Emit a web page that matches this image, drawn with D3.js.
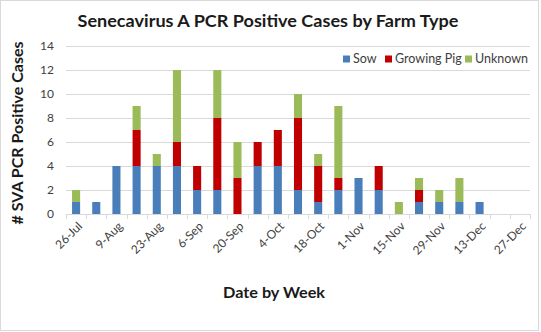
<!DOCTYPE html>
<html>
<head>
<meta charset="utf-8">
<script src="https://cdn.jsdelivr.net/npm/d3@7"></script>
<style>
  html, body { margin: 0; padding: 0; background: #fff; }
  svg { display: block; font-family: Lato, "Open Sans", sans-serif; }
</style>
</head>
<body>
<svg id="chart" width="541" height="332"></svg>
<script>
// weekly SVA PCR positive counts, split by farm type
const weeks = ['26-Jul', '2-Aug', '9-Aug', '16-Aug', '23-Aug', '30-Aug', '6-Sep', '13-Sep',
  '20-Sep', '27-Sep', '4-Oct', '11-Oct', '18-Oct', '25-Oct', '1-Nov', '8-Nov', '15-Nov',
  '22-Nov', '29-Nov', '6-Dec', '13-Dec', '20-Dec', '27-Dec'];
const sow =        [1, 1, 4, 4, 4, 4, 2, 2, 0, 4, 4, 2, 1, 2, 3, 2, 0, 1, 1, 1, 1, 0, 0];
const growingPig = [0, 0, 0, 3, 0, 2, 2, 6, 3, 2, 3, 6, 3, 1, 0, 2, 0, 1, 0, 0, 0, 0, 0];
const unknown =    [1, 0, 0, 2, 1, 6, 0, 4, 3, 0, 0, 2, 1, 6, 0, 0, 1, 1, 1, 2, 0, 0, 0];
const yTicks = [0, 2, 4, 6, 8, 10, 12, 14];

const seriesKeys = ['Sow', 'Growing Pig', 'Unknown'];
const colors = { 'Sow': '#4a7ebb', 'Growing Pig': '#c00000', 'Unknown': '#9bbb59' };

const rows = weeks.map((w, i) => ({
  week: w, 'Sow': sow[i], 'Growing Pig': growingPig[i], 'Unknown': unknown[i]
}));

const svg = d3.select('#chart');
const W = 541, H = 332;
const m = { left: 66, right: 11, top: 46, bottom: 118 };

// outer frame
svg.append('rect')
  .attr('x', 0.5).attr('y', 0.5)
  .attr('width', W - 3).attr('height', H - 2)
  .attr('fill', '#fff').attr('stroke', '#d9d9d9');

const x = d3.scaleBand()
  .domain(weeks)
  .range([m.left, W - m.right])
  .paddingInner(0.6)
  .paddingOuter(0.3);

const y = d3.scaleLinear()
  .domain([0, 14])
  .range([H - m.bottom, m.top]);

// gridlines
svg.append('g')
  .selectAll('line')
  .data(yTicks)
  .join('line')
  .attr('x1', m.left).attr('x2', W - m.right)
  .attr('y1', d => Math.round(y(d)) + 0.5)
  .attr('y2', d => Math.round(y(d)) + 0.5)
  .attr('stroke', '#d9d9d9');

// y tick labels
svg.append('g')
  .selectAll('text')
  .data(yTicks)
  .join('text')
  .attr('x', 54)
  .attr('y', d => y(d))
  .attr('dy', '0.35em')
  .attr('text-anchor', 'end')
  .attr('font-size', 12)
  .attr('fill', '#404040')
  .text(d => d);

// tick marks at category boundaries
const step = x.step();
const boundaries = d3.range(weeks.length + 1).map(i => m.left + i * (W - m.left - m.right) / weeks.length);
svg.append('g')
  .selectAll('line')
  .data(boundaries)
  .join('line')
  .attr('x1', d => Math.round(d) + 0.5).attr('x2', d => Math.round(d) + 0.5)
  .attr('y1', y(0)).attr('y2', y(0) + 5)
  .attr('stroke', '#d9d9d9');

// stacked bars
const stacked = d3.stack().keys(seriesKeys)(rows);
svg.append('g')
  .selectAll('g')
  .data(stacked)
  .join('g')
  .attr('fill', d => colors[d.key])
  .selectAll('rect')
  .data(d => d.filter(s => s[1] > s[0]))
  .join('rect')
  .attr('x', d => x(d.data.week))
  .attr('y', d => y(d[1]))
  .attr('width', x.bandwidth())
  .attr('height', d => y(d[0]) - y(d[1]));

// x tick labels, every other week
svg.append('g')
  .selectAll('text')
  .data(weeks.filter((w, i) => i % 2 === 0))
  .join('text')
  .attr('transform', d => `translate(${x(d) + x.bandwidth() / 2 + 4},${y(0) + 10}) rotate(-45)`)
  .attr('text-anchor', 'end')
  .attr('dy', '0.35em')
  .attr('font-size', 12)
  .attr('fill', '#404040')
  .text(d => d);

// title
svg.append('text')
  .attr('x', 268).attr('y', 27)
  .attr('text-anchor', 'middle')
  .attr('font-size', 17)
  .attr('font-weight', 'bold')
  .attr('fill', '#1a1a1a')
  .attr('textLength', 381)
  .attr('lengthAdjust', 'spacingAndGlyphs')
  .text('Senecavirus A PCR Positive Cases by Farm Type');

// axis titles
svg.append('text')
  .attr('transform', 'translate(23,133) rotate(-90)')
  .attr('text-anchor', 'middle')
  .attr('font-size', 16)
  .attr('font-weight', 'bold')
  .attr('fill', '#1a1a1a')
  .attr('textLength', 183)
  .attr('lengthAdjust', 'spacingAndGlyphs')
  .text('# SVA PCR Positive Cases');

svg.append('text')
  .attr('x', 274).attr('y', 298)
  .attr('text-anchor', 'middle')
  .attr('font-size', 16)
  .attr('font-weight', 'bold')
  .attr('fill', '#1a1a1a')
  .attr('textLength', 102)
  .attr('lengthAdjust', 'spacingAndGlyphs')
  .text('Date by Week');

// legend
const legendX = [343, 385, 465];
const legend = svg.append('g')
  .selectAll('g')
  .data(seriesKeys)
  .join('g')
  .attr('transform', (d, i) => `translate(${legendX[i]},59)`);
legend.append('rect')
  .attr('x', 0).attr('y', -3.5)
  .attr('width', 7).attr('height', 7)
  .attr('fill', d => colors[d]);
legend.append('text')
  .attr('x', 10).attr('dy', '0.35em')
  .attr('font-size', 12.5)
  .attr('fill', '#404040')
  .text(d => d);
</script>
</body>
</html>
